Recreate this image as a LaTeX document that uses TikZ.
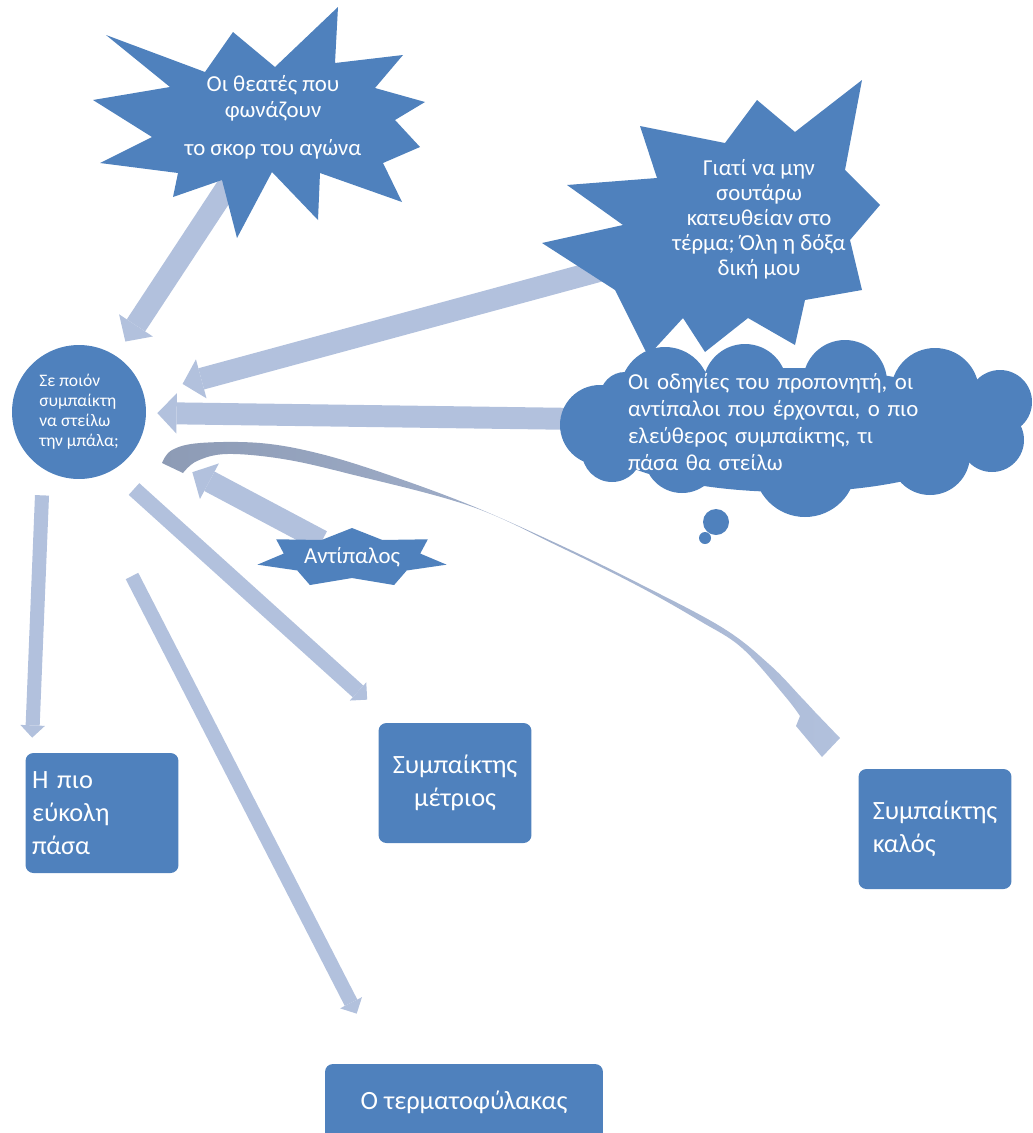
\documentclass[tikz,border=0pt]{standalone}
\usepackage{fontspec}
\setmainfont{Carlito}
\usetikzlibrary{arrows.meta,shapes.geometric,backgrounds,calc}
\definecolor{shapecol}{HTML}{4F81BD}
\definecolor{arrcol}{HTML}{B2C1DD}
\definecolor{curvecol}{HTML}{8D9BB5}

\begin{document}
\begin{tikzpicture}[
  x=0.02cm, y=-0.02cm,
  card/.style={rectangle, rounded corners=4.5pt, fill=shapecol, text=white,
               minimum width=3.06cm, minimum height=2.4cm, inner sep=3pt,
               font=\fontsize{15}{18.7}\selectfont},
  burst/.style={fill=shapecol},
  bursttext/.style={text=white, align=center},
  blk/.style={draw=arrcol, line width=12.5pt,
              -{Triangle[width=23pt,length=11pt,line width=0pt]}},
  slim/.style={draw=arrcol, line width=8pt,
               -{Triangle[width=14pt,length=7pt,line width=0pt]}},
]
\useasboundingbox (0,0) rectangle (1032,1133);

% ------------------------------------------------------------ explosions
\fill[burst] (106,35) -- (205,72) -- (233,32) -- (275,67) -- (338,7)
  -- (335,63) -- (403,55) -- (375,88) -- (425,102) -- (395,120)
  -- (420,147) -- (383,163) -- (402,202) -- (320,173) -- (318,220)
  -- (272,172) -- (237,238) -- (222,180) -- (173,197) -- (178,173)
  -- (100,163) -- (152,137) -- (93,100) -- (170,87) -- cycle;
\node[bursttext, font=\fontsize{13}{15.3}\selectfont] (fans) at (273,117)
  {Οι θεατές που\\φωνάζουν\\[6pt]το σκορ του αγώνα};

\fill[burst] (640,126) -- (725,143) -- (757,100) -- (795,132) -- (862,80)
  -- (845,170) -- (880,205) -- (850,240) -- (862,290) -- (805,300)
  -- (795,345) -- (748,318) -- (705,352) -- (683,318) -- (648,356)
  -- (615,290) -- (542,243) -- (623,225) -- (567,185) -- (657,178) -- cycle;
\node[bursttext, font=\fontsize{13}{14.2}\selectfont] (why) at (759,219)
  {Γιατί να μην\\σουτάρω\\κατευθείαν στο\\τέρμα; Όλη η δόξα\\δική μου};

% ------------------------------------------------------------ cloud
\fill[burst] (790,430) ellipse[x radius=200, y radius=62]
  (600,425) circle[radius=40]  (625,397) circle[radius=25]
  (665,392) circle[radius=45]  (745,386) circle[radius=42]
  (845,382) circle[radius=42]  (935,392) circle[radius=44]
  (1000,402) circle[radius=32] (992,440) circle[radius=32]
  (930,455) circle[radius=40]  (805,466) circle[radius=51]
  (682,455) circle[radius=38]  (612,452) circle[radius=30]
  (716,522) circle[radius=13]  (705,538) circle[radius=6];
\node[ellipse, minimum width=9.4cm, minimum height=3.6cm, text=white,
      align=left, text width=6.72cm, font=\fontsize{13}{15.3}\selectfont]
  (cloud) at (796,422)
  {Οι οδηγίες του προπονητή, οι\\αντίπαλοι που έρχονται, ο πιο\\
   ελεύθερος συμπαίκτης, τι\\πάσα θα στείλω};

% ------------------------------------------------------------ player
\node[circle, fill=shapecol, text=white, minimum size=2.68cm, inner sep=0pt,
      align=left, font=\fontsize{10}{11.3}\selectfont] (ball) at (79,412)
  {Σε ποιόν\\συμπαίκτη\\να στείλω\\την μπάλα;};

% ------------------------------------------------------------ opponent
\fill[burst, shift={(352,558)}] (0,-30)
  \foreach \k [evaluate=\k as \ang using -90+\k*180/7,
               evaluate=\k as \rx using 97-27*isodd(\k),
               evaluate=\k as \ry using 30-10*isodd(\k)] in {1,...,13}
  { -- ({\rx*cos(\ang)},{\ry*sin(\ang)}) } -- cycle;
\node[bursttext, font=\fontsize{13}{15}\selectfont] (antip) at (352,557) {Αντίπαλος};

% ------------------------------------------------------------ targets
\node[card, align=left, text width=2.8cm] (easy) at (102,813) {Η πιο\\εύκολη\\πάσα};
\node[card, align=center] (mid) at (455,783) {Συμπαίκτης\\μέτριος};
\node[card, align=left] (good) at (935,829) {Συμπαίκτης\\καλός};
\node[card, minimum width=5.56cm, minimum height=1.52cm] (keeper) at (464,1102)
  {Ο τερματοφύλακας};

% ------------------------------------------------------------ curved arrow
\shade[left color=curvecol, right color=arrcol]
  plot[smooth, tension=0.6] coordinates {(162,463) (172,450) (200,443) (260,443)
    (317,453) (383,473) (470,505) (560,545) (640,584) (723,628) (770,665) (801,697) (815,712)}
  -- (840,738) -- (822,757) -- (796,726)
  -- plot[smooth, tension=0.6] coordinates {(800,716) (784,695) (742,648) (700,621) (640,587)
    (560,547) (470,506) (350,474) (283,459) (227,454) (197,461) (183,473)}
  -- cycle;

% ------------------------------------------------------------ arrows
\begin{scope}[on background layer]
  \draw[blk, shorten >=0.34cm] (fans) -- (ball);
  \draw[blk, shorten >=0.8cm] ($(why.center)+(-160,52)$) -- (ball);
  \draw[blk, shorten >=0.22cm, shorten <=-0.4cm] (cloud) -- (ball);
  \draw[blk, shorten >=1.22cm] (antip) -- (ball);

  \draw[slim] ($(ball.south)+(-37,16)$) -- ($(easy.north west)+(7,-15)$);
  \draw[slim, line width=9pt] ($(ball.center)+(55,77)$) -- ($(mid.north west)+(-11,-23)$);
  \draw[slim] ($(ball.center)+(53,164)$) -- ($(keeper.north west)+(32,-50)$);
\end{scope}

\end{tikzpicture}
\end{document}
